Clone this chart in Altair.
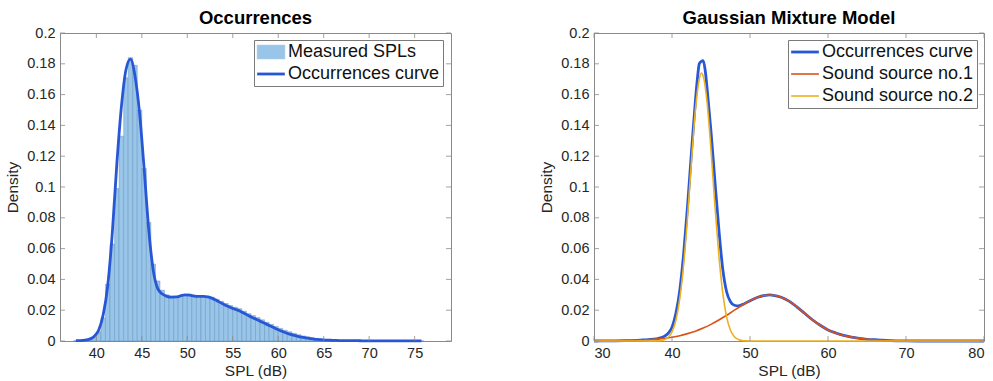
import altair as alt
import pandas as pd

FONT = "Liberation Sans"
BLUE = "#2857d6"
RED = "#D95319"
YELLOW = "#EDB120"
BAR_FILL = "#98c5e8"
BAR_EDGE = "#4f82b0"
FRAME = "#8a8a8a"
TEXT = "#262626"

# ---------------- Left panel data: histogram (0.5 dB bins) ----------------
bin_left = [37.5, 38.0, 38.5, 39.0, 39.5, 40.0, 40.5, 41.0, 41.5, 42.0,
            42.5, 43.0, 43.5, 44.0, 44.5, 45.0, 45.5, 46.0, 46.5, 47.0,
            47.5, 48.0, 48.5, 49.0, 49.5, 50.0, 50.5, 51.0, 51.5, 52.0,
            52.5, 53.0, 53.5, 54.0, 54.5, 55.0, 55.5, 56.0, 56.5, 57.0,
            57.5, 58.0, 58.5, 59.0, 59.5, 60.0, 60.5, 61.0, 61.5, 62.0,
            62.5, 63.0, 63.5, 64.0, 64.5, 65.0, 65.5, 66.0, 66.5, 67.0,
            67.5, 68.0, 68.5, 69.0, 69.5, 70.0, 70.5, 71.0, 71.5, 72.0,
            72.5, 73.0, 73.5, 74.0, 74.5, 75.0, 75.5]
BIN_WIDTH = 0.5
hist_density = [0.0002, 0.0003, 0.0005, 0.0010, 0.0025, 0.0060, 0.0150, 0.0370, 0.0630, 0.0990,
                0.1330, 0.1710, 0.1840, 0.1790, 0.1500, 0.1120, 0.0770, 0.0500, 0.0390, 0.0330,
                0.0300, 0.0290, 0.0285, 0.0290, 0.0302, 0.0305, 0.0298, 0.0295, 0.0293, 0.0290,
                0.0284, 0.0272, 0.0258, 0.0244, 0.0230, 0.0220, 0.0210, 0.0194, 0.0178, 0.0165,
                0.0152, 0.0138, 0.0122, 0.0108, 0.0094, 0.0082, 0.0070, 0.0060, 0.0050, 0.0041,
                0.0033, 0.0027, 0.0021, 0.0015, 0.0011, 0.0008, 0.0006, 0.0004, 0.0003, 0.0003,
                0.0002, 0.0002, 0.0002, 0.0001, 0.0001, 0.0001, 0.0001, 0.0001, 0.0001, 0.0001,
                0.0001, 0.0001, 0.0001, 0.0001, 0.0001, 0.0001, 0.0001]

# ---------------- Left panel data: occurrences curve ----------------
curve_x = [37.75, 38.25, 38.75, 39.25, 39.75, 40.25, 40.75, 41.25, 41.75, 42.25,
           42.75, 43.25, 43.75, 44.25, 44.75, 45.25, 45.75, 46.25, 46.75, 47.25,
           47.75, 48.25, 48.75, 49.25, 49.75, 50.25, 50.75, 51.25, 51.75, 52.25,
           52.75, 53.25, 53.75, 54.25, 54.75, 55.25, 55.75, 56.25, 56.75, 57.25,
           57.75, 58.25, 58.75, 59.25, 59.75, 60.25, 60.75, 61.25, 61.75, 62.25,
           62.75, 63.25, 63.75, 64.25, 64.75, 65.25, 65.75, 66.25, 66.75, 67.25,
           67.75, 68.25, 68.75, 69.25, 69.75, 70.25, 70.75, 71.25, 71.75, 72.25,
           72.75, 73.25, 73.75, 74.25, 74.75, 75.25, 75.75]
curve_y = [0.0002, 0.0003, 0.0006, 0.0012, 0.0030, 0.0070, 0.0170, 0.0360, 0.0700, 0.1150,
           0.1520, 0.1760, 0.1830, 0.1720, 0.1480, 0.1120, 0.0730, 0.0460, 0.0340, 0.0305,
           0.0290, 0.0285, 0.0286, 0.0293, 0.0300, 0.0298, 0.0292, 0.0290, 0.0290, 0.0287,
           0.0277, 0.0262, 0.0246, 0.0231, 0.0218, 0.0206, 0.0195, 0.0180, 0.0164, 0.0150,
           0.0136, 0.0122, 0.0108, 0.0094, 0.0080, 0.0067, 0.0055, 0.0045, 0.0036, 0.0029,
           0.0023, 0.0018, 0.0014, 0.0010, 0.0008, 0.0006, 0.0005, 0.0004, 0.0003, 0.0003,
           0.0002, 0.0002, 0.0002, 0.0001, 0.0001, 0.0001, 0.0001, 0.0001, 0.0001, 0.0001,
           0.0001, 0.0001, 0.0001, 0.0001, 0.0001, 0.0001, 0.0001]

# ---------------- Right panel data: Gaussian mixture model ----------------
occ_x = [30, 32, 34, 36, 37, 38, 38.5, 39, 39.5, 40, 40.5, 41, 41.5, 42, 42.5, 43,
         43.25, 43.5, 43.75, 44, 44.25, 44.5, 45, 45.5, 46, 46.5, 47, 47.5, 48, 48.5, 49,
         50, 51, 52, 52.5, 53, 54, 55, 56, 57, 58, 59, 60, 61, 62, 63, 64, 65, 66, 67, 68,
         70, 72, 75, 80]
occ_y = [0.0, 0.0001, 0.0002, 0.0006, 0.0009, 0.0014, 0.0020, 0.0030, 0.0050, 0.0090,
         0.0180, 0.0330, 0.0570, 0.0880, 0.1230, 0.1560,
         0.1700, 0.1800, 0.1815, 0.1820, 0.1760, 0.1640,
         0.1360, 0.1040, 0.0730, 0.0470, 0.0320, 0.0255, 0.0232, 0.0228, 0.0236,
         0.0262, 0.0284, 0.0297, 0.0299, 0.0297,
         0.0284, 0.0259, 0.0222, 0.0180, 0.0138, 0.0102, 0.0072, 0.0052, 0.0036, 0.0025,
         0.0017, 0.0011, 0.0008, 0.0005, 0.0003,
         0.0001, 0.0, 0.0, 0.0]

src1_x = [30, 32, 34, 36, 38, 40, 41, 42, 43, 44, 45, 46, 47, 48, 49, 50, 51, 52, 52.5,
          53, 54, 55, 56, 57, 58, 59, 60, 61, 62, 63, 64, 65, 66, 67, 68, 70, 72, 75, 80]
src1_y = [0.0, 0.0001, 0.0002, 0.0006, 0.0012, 0.0024,
          0.0034, 0.0048, 0.0064, 0.0084, 0.0108, 0.0136, 0.0167, 0.0200, 0.0232, 0.0262,
          0.0284, 0.0297, 0.0299,
          0.0297, 0.0284, 0.0259, 0.0222, 0.0180, 0.0138, 0.0102, 0.0072, 0.0052, 0.0036,
          0.0025, 0.0017, 0.0011, 0.0008, 0.0005, 0.0003,
          0.0001, 0.0, 0.0, 0.0]

src2_x = [30, 35, 38, 38.5, 39, 39.5, 40, 40.5, 41, 41.5, 42, 42.5, 43, 43.5, 43.75, 44,
          44.5, 45, 45.5, 46, 46.5, 47, 47.5, 48, 48.5, 49, 49.5, 50, 55, 60, 70, 80]
src2_y = [0.0, 0.0, 0.0001, 0.0002, 0.0008, 0.0023, 0.0059, 0.0135, 0.0277, 0.0500,
          0.0810, 0.1170, 0.1500, 0.1700, 0.1740, 0.1720,
          0.1550, 0.1240, 0.0880, 0.0560, 0.0315, 0.0157, 0.0070, 0.0028, 0.0010, 0.0003,
          0.0001, 0.0, 0.0, 0.0, 0.0, 0.0]

left_series = ["Measured SPLs", "Occurrences curve"]
right_series = ["Occurrences curve", "Sound source no.1", "Sound source no.2"]

left_xticks = [40, 45, 50, 55, 60, 65, 70, 75]
right_xticks = [30, 40, 50, 60, 70, 80]
yticks = [0, 0.02, 0.04, 0.06, 0.08, 0.1, 0.12, 0.14, 0.16, 0.18, 0.2]

W_L, W_R, H = 391, 390, 308
TICK = 5
LABEL_EXPR = "'' + datum.value"

hist_df = pd.DataFrame({"left": bin_left, "density": hist_density, "series": left_series[0]})
curve_df = pd.DataFrame({"spl": curve_x, "density": curve_y, "series": left_series[1]})
gmm_df = pd.concat([
    pd.DataFrame({"spl": occ_x, "density": occ_y, "series": right_series[0]}),
    pd.DataFrame({"spl": src1_x, "density": src1_y, "series": right_series[1]}),
    pd.DataFrame({"spl": src2_x, "density": src2_y, "series": right_series[2]}),
], ignore_index=True)


def xenc(field, domain, ticks):
    return alt.X(field, type="quantitative",
                 scale=alt.Scale(domain=domain, nice=False, zero=False),
                 axis=alt.Axis(title="SPL (dB)", values=ticks, labelExpr=LABEL_EXPR))


def yenc(field):
    return alt.Y(field, type="quantitative",
                 scale=alt.Scale(domain=[0, 0.2], nice=False),
                 axis=alt.Axis(title="Density", values=yticks, labelExpr=LABEL_EXPR))


def tick_layers(domain, xt, width):
    xdf = alt.Chart(pd.DataFrame({"t": xt})).mark_rule(color=FRAME, strokeWidth=0.8)
    ydf = alt.Chart(pd.DataFrame({"v": yticks})).mark_rule(color=FRAME, strokeWidth=0.8)
    return [
        xdf.encode(x=xenc("t", domain, xt), y=alt.value(H), y2=alt.value(H - TICK)),
        xdf.encode(x=xenc("t", domain, xt), y=alt.value(0), y2=alt.value(TICK)),
        ydf.encode(y=yenc("v"), x=alt.value(0), x2=alt.value(TICK)),
        ydf.encode(y=yenc("v"), x=alt.value(width - TICK), x2=alt.value(width)),
    ]


LINE_PATH = "M-1.6,0H1.6"
PATCH_PATH = "M-1.6,-0.8H1.6V0.8H-1.6Z"
is_patch = "datum.value === 'Measured SPLs'"
is_occ = "datum.value === 'Occurrences curve'"

legend_common = dict(
    title=None, orient="none", legendX=194, legendY=7,
    symbolSize=300, symbolOffset=5, labelOffset=8, padding=3, rowPadding=4,
    labelFont=FONT, labelFontSize=18, labelColor="#111111", labelLimit=400,
    strokeColor="#7a7a7a", fillColor="white", cornerRadius=0, symbolOpacity=1,
)

left_color = alt.Color(
    "series:N",
    scale=alt.Scale(domain=left_series, range=[BAR_FILL, BLUE]),
    legend=alt.Legend(
        symbolType=alt.ExprRef(expr=f"{is_patch} ? '{PATCH_PATH}' : '{LINE_PATH}'"),
        symbolFillColor=alt.ExprRef(expr=f"{is_patch} ? '{BAR_FILL}' : 'transparent'"),
        symbolStrokeColor=alt.ExprRef(expr=f"{is_patch} ? '{BAR_EDGE}' : '{BLUE}'"),
        symbolStrokeWidth=alt.ExprRef(expr=f"{is_patch} ? 0.5 : 2.8"),
        **legend_common,
    ),
)

TITLE_KW = dict(font=FONT, fontSize=18.5, fontWeight="bold", color="#000000",
                anchor="middle", frame="group", offset=-2)

L_DOM = [36, 79]
bars = alt.Chart(hist_df).transform_calculate(
    right=f"datum.left + {BIN_WIDTH}"
).mark_bar(stroke=BAR_EDGE, strokeWidth=0.5, strokeOpacity=0.7, opacity=1).encode(
    x=xenc("left", L_DOM, left_xticks), x2="right:Q", y=yenc("density"), y2=alt.datum(0),
    color=left_color,
)
curve = alt.Chart(curve_df).mark_line(strokeWidth=2.8, interpolate="monotone").encode(
    x=xenc("spl", L_DOM, left_xticks), y=yenc("density"), color=left_color,
)
left = alt.layer(bars, curve, *tick_layers(L_DOM, left_xticks, W_L)).properties(
    width=W_L, height=H,
    title=alt.TitleParams("Occurrences", **TITLE_KW),
)

right_color = alt.Color(
    "series:N",
    scale=alt.Scale(domain=right_series, range=[BLUE, RED, YELLOW]),
    legend=alt.Legend(
        symbolType=LINE_PATH,
        symbolStrokeWidth=alt.ExprRef(expr=f"{is_occ} ? 2.8 : 1.6"),
        **legend_common,
    ),
)

R_DOM = [30, 80]
layers_r = []
for name, sw in zip(right_series, [2.8, 1.6, 1.6]):
    layers_r.append(
        alt.Chart(gmm_df).transform_filter(alt.datum.series == name)
        .mark_line(strokeWidth=sw, interpolate="monotone")
        .encode(x=xenc("spl", R_DOM, right_xticks), y=yenc("density"), color=right_color)
    )
right = alt.layer(*layers_r, *tick_layers(R_DOM, right_xticks, W_R)).properties(
    width=W_R, height=H,
    title=alt.TitleParams("Gaussian Mixture Model", **TITLE_KW),
)

chart = alt.hconcat(left, right, spacing=87).resolve_scale(color="independent").configure(
    padding={"left": 5, "top": 8, "right": 0, "bottom": 0},
    background="white",
).configure_view(
    stroke=FRAME, strokeWidth=1,
).configure_axis(
    domain=False, ticks=False, tickSize=0, grid=False,
    labelFont=FONT, labelFontSize=14.5, labelColor=TEXT,
    titleFont=FONT, titleFontSize=15.5, titleFontWeight="normal", titleColor=TEXT,
).configure_axisX(
    labelPadding=5, titlePadding=4,
).configure_axisY(
    labelPadding=5, titlePadding=6,
)

chart.save("out.html", embed_options={"renderer": "svg", "actions": False})
